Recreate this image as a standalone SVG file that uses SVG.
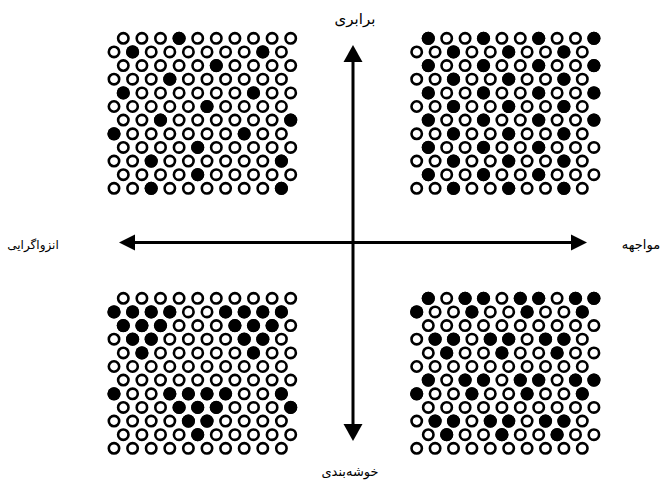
<svg xmlns="http://www.w3.org/2000/svg" xmlns:xlink="http://www.w3.org/1999/xlink" width="667" height="482" viewBox="0 0 667 482">
<style>
.o{fill:#fff;stroke:#000;stroke-width:2.6}
.f{fill:#000}
.ax{stroke:#000;stroke-width:3;fill:none}
.ah{fill:#000}
.lbl{font-family:"DejaVu Sans","Noto Sans",sans-serif;font-size:13px;fill:#000;text-anchor:middle}
</style>
<defs>
<g id="rA">
<circle class="o" cx="0" cy="0" r="5.2"/><circle class="o" cx="18.6" cy="0" r="5.2"/><circle class="o" cx="37.2" cy="0" r="5.2"/><circle class="o" cx="55.8" cy="0" r="5.2"/><circle class="o" cx="74.4" cy="0" r="5.2"/><circle class="o" cx="93" cy="0" r="5.2"/><circle class="o" cx="111.6" cy="0" r="5.2"/><circle class="o" cx="130.2" cy="0" r="5.2"/><circle class="o" cx="148.8" cy="0" r="5.2"/><circle class="o" cx="167.4" cy="0" r="5.2"/>
</g>
<g id="rB">
<circle class="o" cx="0" cy="0" r="5.2"/><circle class="o" cx="18.4" cy="0" r="5.2"/><circle class="o" cx="36.8" cy="0" r="5.2"/><circle class="o" cx="55.2" cy="0" r="5.2"/><circle class="o" cx="73.6" cy="0" r="5.2"/><circle class="o" cx="92" cy="0" r="5.2"/><circle class="o" cx="110.4" cy="0" r="5.2"/><circle class="o" cx="128.8" cy="0" r="5.2"/><circle class="o" cx="147.2" cy="0" r="5.2"/><circle class="o" cx="165.6" cy="0" r="5.2"/>
</g>
</defs>
<rect width="667" height="482" fill="#fff"/>

<g id="connectors">
<line class="ax" x1="353" y1="60" x2="353" y2="426"/>
<line class="ax" x1="134" y1="242.5" x2="572" y2="242.5"/>
<polygon class="ah" points="353,45 343.5,62 362.5,62"/>
<polygon class="ah" points="353,441 343.5,424 362.5,424"/>
<polygon class="ah" points="119,242.5 135,234.5 135,250.5"/>
<polygon class="ah" points="587,242.5 571,234.5 571,250.5"/>
</g>

<g id="quad-top-left">
<use href="#rA" x="123.3" y="38.3"/>
<use href="#rA" x="114" y="51.9"/>
<use href="#rA" x="123.3" y="65.6"/>
<use href="#rA" x="114" y="79.2"/>
<use href="#rA" x="123.3" y="92.9"/>
<use href="#rA" x="114" y="106.5"/>
<use href="#rA" x="123.3" y="120.1"/>
<use href="#rA" x="114" y="133.8"/>
<use href="#rA" x="123.3" y="147.4"/>
<use href="#rA" x="114" y="161.1"/>
<use href="#rA" x="123.3" y="174.7"/>
<use href="#rA" x="114" y="188.3"/>
<circle class="f" cx="179.1" cy="38.3" r="6.6"/>
<circle class="f" cx="132.6" cy="51.9" r="6.6"/><circle class="f" cx="262.8" cy="51.9" r="6.6"/>
<circle class="f" cx="216.3" cy="65.6" r="6.6"/>
<circle class="f" cx="169.8" cy="79.2" r="6.6"/>
<circle class="f" cx="123.3" cy="92.9" r="6.6"/><circle class="f" cx="253.5" cy="92.9" r="6.6"/>
<circle class="f" cx="207" cy="106.5" r="6.6"/>
<circle class="f" cx="160.5" cy="120.1" r="6.6"/><circle class="f" cx="290.7" cy="120.1" r="6.6"/>
<circle class="f" cx="114" cy="133.8" r="6.6"/><circle class="f" cx="244.2" cy="133.8" r="6.6"/>
<circle class="f" cx="197.7" cy="147.4" r="6.6"/>
<circle class="f" cx="151.2" cy="161.1" r="6.6"/><circle class="f" cx="281.4" cy="161.1" r="6.6"/>
<circle class="f" cx="197.7" cy="174.7" r="6.6"/>
<circle class="f" cx="151.2" cy="188.3" r="6.6"/><circle class="f" cx="281.4" cy="188.3" r="6.6"/>
</g>

<g id="quad-top-right">
<use href="#rB" x="428.3" y="38.3"/>
<use href="#rB" x="416.7" y="51.9"/>
<use href="#rB" x="428.3" y="65.6"/>
<use href="#rB" x="416.7" y="79.2"/>
<use href="#rB" x="428.3" y="92.9"/>
<use href="#rB" x="416.7" y="106.5"/>
<use href="#rB" x="428.3" y="120.1"/>
<use href="#rB" x="416.7" y="133.8"/>
<use href="#rB" x="428.3" y="147.4"/>
<use href="#rB" x="416.7" y="161.1"/>
<use href="#rB" x="428.3" y="174.7"/>
<use href="#rB" x="416.7" y="188.3"/>
<circle class="f" cx="428.3" cy="38.3" r="6.6"/><circle class="f" cx="483.5" cy="38.3" r="6.6"/><circle class="f" cx="538.7" cy="38.3" r="6.6"/><circle class="f" cx="593.9" cy="38.3" r="6.6"/>
<circle class="f" cx="453.5" cy="51.9" r="6.6"/><circle class="f" cx="508.7" cy="51.9" r="6.6"/><circle class="f" cx="563.9" cy="51.9" r="6.6"/>
<circle class="f" cx="428.3" cy="65.6" r="6.6"/><circle class="f" cx="483.5" cy="65.6" r="6.6"/><circle class="f" cx="538.7" cy="65.6" r="6.6"/><circle class="f" cx="593.9" cy="65.6" r="6.6"/>
<circle class="f" cx="453.5" cy="79.2" r="6.6"/><circle class="f" cx="508.7" cy="79.2" r="6.6"/><circle class="f" cx="563.9" cy="79.2" r="6.6"/>
<circle class="f" cx="428.3" cy="92.9" r="6.6"/><circle class="f" cx="483.5" cy="92.9" r="6.6"/><circle class="f" cx="538.7" cy="92.9" r="6.6"/><circle class="f" cx="593.9" cy="92.9" r="6.6"/>
<circle class="f" cx="453.5" cy="106.5" r="6.6"/><circle class="f" cx="508.7" cy="106.5" r="6.6"/><circle class="f" cx="563.9" cy="106.5" r="6.6"/>
<circle class="f" cx="428.3" cy="120.1" r="6.6"/><circle class="f" cx="483.5" cy="120.1" r="6.6"/><circle class="f" cx="538.7" cy="120.1" r="6.6"/><circle class="f" cx="593.9" cy="120.1" r="6.6"/>
<circle class="f" cx="453.5" cy="133.8" r="6.6"/><circle class="f" cx="508.7" cy="133.8" r="6.6"/><circle class="f" cx="563.9" cy="133.8" r="6.6"/>
<circle class="f" cx="428.3" cy="147.4" r="6.6"/><circle class="f" cx="483.5" cy="147.4" r="6.6"/><circle class="f" cx="538.7" cy="147.4" r="6.6"/>
<circle class="f" cx="453.5" cy="161.1" r="6.6"/><circle class="f" cx="508.7" cy="161.1" r="6.6"/><circle class="f" cx="563.9" cy="161.1" r="6.6"/>
<circle class="f" cx="428.3" cy="174.7" r="6.6"/><circle class="f" cx="483.5" cy="174.7" r="6.6"/><circle class="f" cx="538.7" cy="174.7" r="6.6"/>
<circle class="f" cx="453.5" cy="188.3" r="6.6"/><circle class="f" cx="508.7" cy="188.3" r="6.6"/><circle class="f" cx="563.9" cy="188.3" r="6.6"/>
</g>

<g id="quad-bottom-left">
<use href="#rA" x="123.3" y="298.3"/>
<use href="#rA" x="114" y="311.9"/>
<use href="#rA" x="123.3" y="325.6"/>
<use href="#rA" x="114" y="339.2"/>
<use href="#rA" x="123.3" y="352.9"/>
<use href="#rA" x="114" y="366.5"/>
<use href="#rA" x="123.3" y="380.1"/>
<use href="#rA" x="114" y="393.8"/>
<use href="#rA" x="123.3" y="407.4"/>
<use href="#rA" x="114" y="421.1"/>
<use href="#rA" x="123.3" y="434.7"/>
<use href="#rA" x="114" y="448.3"/>
<circle class="f" cx="114" cy="311.9" r="6.6"/><circle class="f" cx="132.6" cy="311.9" r="6.6"/><circle class="f" cx="151.2" cy="311.9" r="6.6"/><circle class="f" cx="169.8" cy="311.9" r="6.6"/><circle class="f" cx="225.6" cy="311.9" r="6.6"/><circle class="f" cx="244.2" cy="311.9" r="6.6"/><circle class="f" cx="262.8" cy="311.9" r="6.6"/><circle class="f" cx="281.4" cy="311.9" r="6.6"/>
<circle class="f" cx="123.3" cy="325.6" r="6.6"/><circle class="f" cx="141.9" cy="325.6" r="6.6"/><circle class="f" cx="160.5" cy="325.6" r="6.6"/><circle class="f" cx="234.9" cy="325.6" r="6.6"/><circle class="f" cx="253.5" cy="325.6" r="6.6"/><circle class="f" cx="272.1" cy="325.6" r="6.6"/>
<circle class="f" cx="132.6" cy="339.2" r="6.6"/><circle class="f" cx="151.2" cy="339.2" r="6.6"/><circle class="f" cx="244.2" cy="339.2" r="6.6"/><circle class="f" cx="262.8" cy="339.2" r="6.6"/>
<circle class="f" cx="141.9" cy="352.9" r="6.6"/><circle class="f" cx="253.5" cy="352.9" r="6.6"/>
<circle class="f" cx="114" cy="393.8" r="6.6"/><circle class="f" cx="169.8" cy="393.8" r="6.6"/><circle class="f" cx="188.4" cy="393.8" r="6.6"/><circle class="f" cx="207" cy="393.8" r="6.6"/><circle class="f" cx="225.6" cy="393.8" r="6.6"/><circle class="f" cx="281.4" cy="393.8" r="6.6"/>
<circle class="f" cx="179.1" cy="407.4" r="6.6"/><circle class="f" cx="197.7" cy="407.4" r="6.6"/><circle class="f" cx="216.3" cy="407.4" r="6.6"/><circle class="f" cx="290.7" cy="407.4" r="6.6"/>
<circle class="f" cx="188.4" cy="421.1" r="6.6"/><circle class="f" cx="207" cy="421.1" r="6.6"/>
<circle class="f" cx="197.7" cy="434.7" r="6.6"/>
</g>

<g id="quad-bottom-right">
<use href="#rB" x="428.3" y="298.3"/>
<use href="#rB" x="416.7" y="311.9"/>
<use href="#rB" x="428.3" y="325.6"/>
<use href="#rB" x="416.7" y="339.2"/>
<use href="#rB" x="428.3" y="352.9"/>
<use href="#rB" x="416.7" y="366.5"/>
<use href="#rB" x="428.3" y="380.1"/>
<use href="#rB" x="416.7" y="393.8"/>
<use href="#rB" x="428.3" y="407.4"/>
<use href="#rB" x="416.7" y="421.1"/>
<use href="#rB" x="428.3" y="434.7"/>
<use href="#rB" x="416.7" y="448.3"/>
<circle class="f" cx="428.3" cy="298.3" r="6.6"/><circle class="f" cx="465.1" cy="298.3" r="6.6"/><circle class="f" cx="483.5" cy="298.3" r="6.6"/><circle class="f" cx="520.3" cy="298.3" r="6.6"/><circle class="f" cx="538.7" cy="298.3" r="6.6"/><circle class="f" cx="575.5" cy="298.3" r="6.6"/><circle class="f" cx="593.9" cy="298.3" r="6.6"/>
<circle class="f" cx="416.7" cy="311.9" r="6.6"/><circle class="f" cx="471.9" cy="311.9" r="6.6"/><circle class="f" cx="527.1" cy="311.9" r="6.6"/><circle class="f" cx="582.3" cy="311.9" r="6.6"/>
<circle class="f" cx="435.1" cy="339.2" r="6.6"/><circle class="f" cx="453.5" cy="339.2" r="6.6"/><circle class="f" cx="490.3" cy="339.2" r="6.6"/><circle class="f" cx="508.7" cy="339.2" r="6.6"/><circle class="f" cx="545.5" cy="339.2" r="6.6"/><circle class="f" cx="563.9" cy="339.2" r="6.6"/>
<circle class="f" cx="446.7" cy="352.9" r="6.6"/><circle class="f" cx="501.9" cy="352.9" r="6.6"/><circle class="f" cx="557.1" cy="352.9" r="6.6"/>
<circle class="f" cx="428.3" cy="380.1" r="6.6"/><circle class="f" cx="465.1" cy="380.1" r="6.6"/><circle class="f" cx="483.5" cy="380.1" r="6.6"/><circle class="f" cx="520.3" cy="380.1" r="6.6"/><circle class="f" cx="538.7" cy="380.1" r="6.6"/><circle class="f" cx="575.5" cy="380.1" r="6.6"/><circle class="f" cx="593.9" cy="380.1" r="6.6"/>
<circle class="f" cx="416.7" cy="393.8" r="6.6"/><circle class="f" cx="471.9" cy="393.8" r="6.6"/><circle class="f" cx="527.1" cy="393.8" r="6.6"/><circle class="f" cx="582.3" cy="393.8" r="6.6"/>
<circle class="f" cx="435.1" cy="421.1" r="6.6"/><circle class="f" cx="453.5" cy="421.1" r="6.6"/><circle class="f" cx="490.3" cy="421.1" r="6.6"/><circle class="f" cx="508.7" cy="421.1" r="6.6"/><circle class="f" cx="545.5" cy="421.1" r="6.6"/><circle class="f" cx="563.9" cy="421.1" r="6.6"/>
<circle class="f" cx="446.7" cy="434.7" r="6.6"/><circle class="f" cx="501.9" cy="434.7" r="6.6"/><circle class="f" cx="557.1" cy="434.7" r="6.6"/>
</g>

<g id="label-top"><text class="lbl" x="355" y="24" style="font-size:15px">برابری</text></g>
<g id="label-left"><text class="lbl" x="33" y="249" style="font-size:12px">انزواگرایی</text></g>
<g id="label-right"><text class="lbl" x="641" y="249">مواجهه</text></g>
<g id="label-bottom"><text class="lbl" x="350" y="476">خوشه‌بندی</text></g>
</svg>
